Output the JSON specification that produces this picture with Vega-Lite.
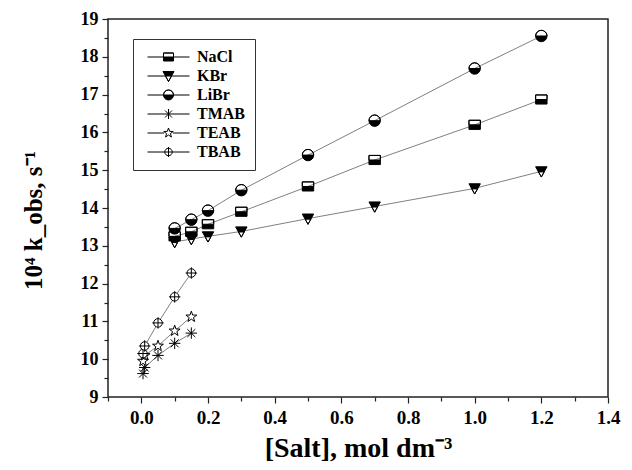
{
  "$schema": "https://vega.github.io/schema/vega-lite/v6.json",
  "autosize": "none",
  "width": 500,
  "height": 378,
  "padding": {"left": 108, "top": 19, "right": 24, "bottom": 73},
  "background": "white",
  "config": {
    "font": "Liberation Serif",
    "view": {"stroke": "#222222", "strokeWidth": 1.5},
    "axis": {"grid": false, "domain": false, "tickColor": "#222222", "labelColor": "black", "titleColor": "black", "labelFont": "Liberation Serif", "titleFont": "Liberation Serif", "labelFontWeight": "bold", "titleFontWeight": "bold"}
  },
  "data": {"values": [
    {"salt": "NaCl", "c": 0.1, "k": 13.25},
    {"salt": "NaCl", "c": 0.15, "k": 13.37},
    {"salt": "NaCl", "c": 0.2, "k": 13.57},
    {"salt": "NaCl", "c": 0.3, "k": 13.9},
    {"salt": "NaCl", "c": 0.5, "k": 14.57},
    {"salt": "NaCl", "c": 0.7, "k": 15.27},
    {"salt": "NaCl", "c": 1.0, "k": 16.2},
    {"salt": "NaCl", "c": 1.2, "k": 16.87},
    {"salt": "KBr", "c": 0.1, "k": 13.1},
    {"salt": "KBr", "c": 0.15, "k": 13.18},
    {"salt": "KBr", "c": 0.2, "k": 13.25},
    {"salt": "KBr", "c": 0.3, "k": 13.38},
    {"salt": "KBr", "c": 0.5, "k": 13.72},
    {"salt": "KBr", "c": 0.7, "k": 14.04},
    {"salt": "KBr", "c": 1.0, "k": 14.52},
    {"salt": "KBr", "c": 1.2, "k": 14.97},
    {"salt": "LiBr", "c": 0.1, "k": 13.46},
    {"salt": "LiBr", "c": 0.15, "k": 13.69},
    {"salt": "LiBr", "c": 0.2, "k": 13.93},
    {"salt": "LiBr", "c": 0.3, "k": 14.47},
    {"salt": "LiBr", "c": 0.5, "k": 15.4},
    {"salt": "LiBr", "c": 0.7, "k": 16.31},
    {"salt": "LiBr", "c": 1.0, "k": 17.69},
    {"salt": "LiBr", "c": 1.2, "k": 18.55},
    {"salt": "TMAB", "c": 0.005, "k": 9.62},
    {"salt": "TMAB", "c": 0.01, "k": 9.78},
    {"salt": "TMAB", "c": 0.05, "k": 10.1},
    {"salt": "TMAB", "c": 0.1, "k": 10.42},
    {"salt": "TMAB", "c": 0.15, "k": 10.69},
    {"salt": "TEAB", "c": 0.005, "k": 9.95},
    {"salt": "TEAB", "c": 0.01, "k": 10.1},
    {"salt": "TEAB", "c": 0.05, "k": 10.35},
    {"salt": "TEAB", "c": 0.1, "k": 10.75},
    {"salt": "TEAB", "c": 0.15, "k": 11.12},
    {"salt": "TBAB", "c": 0.005, "k": 10.15},
    {"salt": "TBAB", "c": 0.01, "k": 10.35},
    {"salt": "TBAB", "c": 0.05, "k": 10.96},
    {"salt": "TBAB", "c": 0.1, "k": 11.65},
    {"salt": "TBAB", "c": 0.15, "k": 12.28}
  ]},
  "resolve": {
    "scale": {"shape": "independent", "fill": "independent"},
    "axis": {"x": "independent", "y": "independent"}
  },
  "layer": [
    {
      "mark": {"type": "line", "color": "#808080", "strokeWidth": 1},
      "encoding": {
        "x": {"field": "c", "type": "quantitative", "scale": {"domain": [-0.1, 1.4], "nice": false, "zero": false},
          "axis": {"orient": "bottom", "values": [0, 0.2, 0.4, 0.6, 0.8, 1.0, 1.2, 1.4], "format": ".1f", "labelFontSize": 19, "tickSize": 6, "tickWidth": 1.2, "labelPadding": 5, "title": "[Salt], mol dm⁻³", "titleFontSize": 28, "titlePadding": 7, "labelFlush": false}},
        "y": {"field": "k", "type": "quantitative", "scale": {"domain": [9, 19], "nice": false, "zero": false},
          "axis": {"orient": "left", "values": [9, 10, 11, 12, 13, 14, 15, 16, 17, 18, 19], "labelFontSize": 18, "tickSize": 6, "tickWidth": 1.2, "labelPadding": 4, "title": "10⁴ k_obs, s⁻¹", "titleFontSize": 25, "titleX": -75, "titleY": 201, "titleBaseline": "middle", "labelFlush": false}},
        "detail": {"field": "salt"}
      }
    },
    {
      "mark": {"type": "point", "filled": true, "stroke": "black", "strokeWidth": 1, "opacity": 1, "size": 130},
      "encoding": {
        "x": {"field": "c", "type": "quantitative", "scale": {"domain": [-0.1, 1.4], "nice": false, "zero": false},
          "axis": {"orient": "bottom", "values": [-0.1, 0.1, 0.3, 0.5, 0.7, 0.9, 1.1, 1.3], "labels": false, "tickSize": 4, "tickWidth": 1.2, "title": null}},
        "y": {"field": "k", "type": "quantitative", "scale": {"domain": [9, 19], "nice": false, "zero": false},
          "axis": {"orient": "left", "values": [9.5, 10.5, 11.5, 12.5, 13.5, 14.5, 15.5, 16.5, 17.5, 18.5], "labels": false, "tickSize": 4, "tickWidth": 1.2, "title": null}},
        "shape": {"field": "salt", "type": "nominal", "legend": null,
          "scale": {"domain": ["NaCl", "KBr", "LiBr", "TMAB", "TEAB", "TBAB"],
            "range": [
              "M-1,0V-0.8H1V0V-0.8H-1ZM-1,0H1V0.8H-1Z",
              "M-1,-0.8H1L0.5,0.1H-0.5ZM-0.5,0.1L0,1L0.5,0.1L0,1Z",
              "M-1,0A1,1,0,0,1,1,0A1,1,0,0,0,-1,0ZM-1,0A1,1,0,0,0,1,0Z",
              "M-1,0H1M0,-1V1M-0.7,-0.7L0.7,0.7M-0.7,0.7L0.7,-0.7",
              "M0,-1L0.235,-0.324L0.951,-0.309L0.38,0.124L0.588,0.809L0,0.4L-0.588,0.809L-0.38,0.124L-0.951,-0.309L-0.235,-0.324Z",
              "M-0.75,0A0.75,0.75,0,1,1,0.75,0A0.75,0.75,0,1,1,-0.75,0ZM-1,0H1M0,-1V1"
            ]}},
        "fill": {"field": "salt", "type": "nominal", "legend": null,
          "scale": {"domain": ["NaCl", "KBr", "LiBr", "TMAB", "TEAB", "TBAB"], "range": ["black", "black", "black", "white", "white", "white"]}}
      }
    },
    {
      "mark": {"type": "point", "filled": true, "stroke": "black", "strokeWidth": 1, "opacity": 0, "size": 100},
      "encoding": {
        "x": {"field": "c", "type": "quantitative", "scale": {"domain": [-0.1, 1.4], "nice": false, "zero": false}, "axis": null},
        "y": {"field": "k", "type": "quantitative", "scale": {"domain": [9, 19], "nice": false, "zero": false}, "axis": null},
        "shape": {"field": "salt", "type": "nominal",
          "legend": {"orient": "none", "legendX": 25, "legendY": 20, "title": null, "padding": 10, "strokeColor": "#333333", "fillColor": "white", "symbolSize": 100, "symbolStrokeColor": "black", "symbolStrokeWidth": 1, "symbolOpacity": 1, "labelFont": "Liberation Serif", "labelFontSize": 16, "labelFontWeight": "bold", "labelColor": "black", "labelOffset": 38, "rowPadding": 3, "labelLimit": 0,
            "encode": {"symbols": {"update": {"stroke": {"value": "black"}, "strokeWidth": {"value": 1}, "opacity": {"value": 1}}}}},
          "scale": {"domain": ["NaCl", "KBr", "LiBr", "TMAB", "TEAB", "TBAB"],
            "range": [
              "M-0.7,0H2.5M4.5,0H7.7M2.5,0V-0.8H4.5V0V-0.8H2.5ZM2.5,0H4.5V0.8H2.5Z",
              "M-0.7,0H2.9M4.1,0H7.7M2.4,-0.9H4.6L4.1,0H2.9ZM2.9,0L3.5,1.1L4.1,0L3.5,1.1Z",
              "M-0.7,0H2.5M4.5,0H7.7M2.5,0A1,1,0,0,1,4.5,0A1,1,0,0,0,2.5,0ZM2.5,0A1,1,0,0,0,4.5,0Z",
              "M-0.7,0H7.7M3.5,-1V1M2.8,-0.7L4.2,0.7M2.8,0.7L4.2,-0.7",
              "M-0.7,0H2.6M4.4,0H7.7M3.5,-1L3.735,-0.324L4.451,-0.309L3.88,0.124L4.088,0.809L3.5,0.4L2.912,0.809L3.12,0.124L2.549,-0.309L3.265,-0.324Z",
              "M-0.7,0H7.7M2.75,0A0.75,0.75,0,1,1,4.25,0A0.75,0.75,0,1,1,2.75,0ZM3.5,-1V1"
            ]}},
        "fill": {"field": "salt", "type": "nominal",
          "legend": {"orient": "none", "legendX": 25, "legendY": 20, "title": null, "padding": 10, "strokeColor": "#333333", "fillColor": "white", "symbolSize": 100, "symbolStrokeColor": "black", "symbolStrokeWidth": 1, "symbolOpacity": 1, "labelFont": "Liberation Serif", "labelFontSize": 16, "labelFontWeight": "bold", "labelColor": "black", "labelOffset": 38, "rowPadding": 3, "labelLimit": 0,
            "encode": {"symbols": {"update": {"stroke": {"value": "black"}, "strokeWidth": {"value": 1}, "opacity": {"value": 1}}}}},
          "scale": {"domain": ["NaCl", "KBr", "LiBr", "TMAB", "TEAB", "TBAB"], "range": ["black", "black", "black", "white", "white", "white"]}}
      }
    }
  ]
}
